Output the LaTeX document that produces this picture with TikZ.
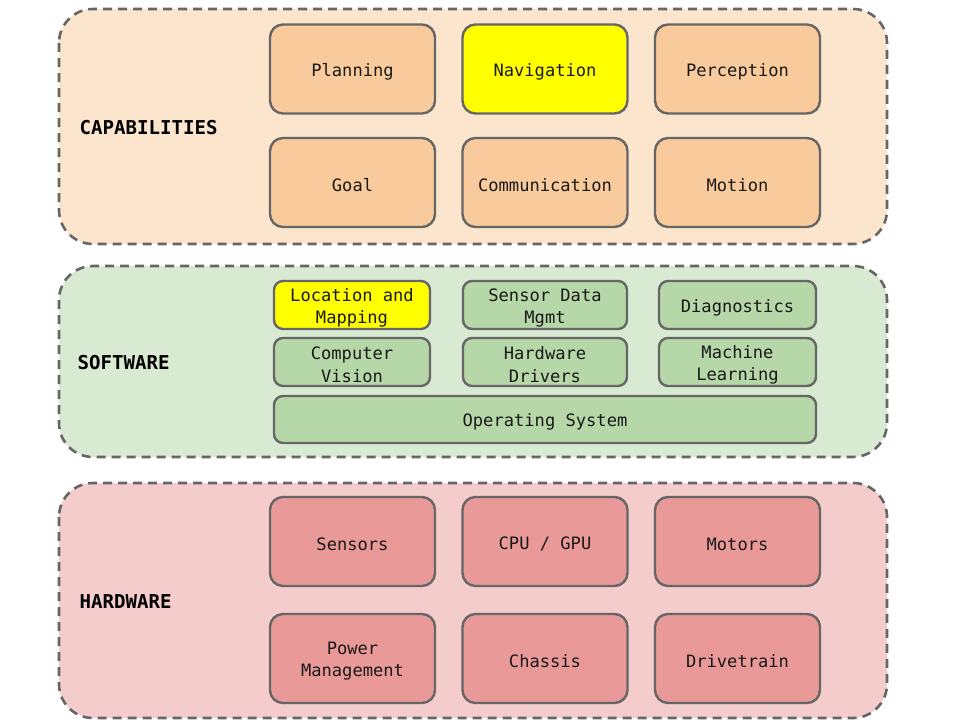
\documentclass[tikz,border=0pt]{standalone}
\usepackage{fontspec}
\setmonofont{DejaVu Sans Mono}
\begin{document}
\begin{tikzpicture}[x=1pt,y=-1pt,
  layer/.style={draw=black!60, line width=2.6pt, dash pattern=on 9pt off 6pt, rounded corners=34pt},
  txt/.style={align=center, font=\ttfamily\fontsize{17.1}{22.5}\selectfont, text=black!90, inner sep=0pt, yshift=-2.8pt},
  blk/.style={draw=black!60, line width=2.4pt, rounded corners=13pt, inner sep=0pt},
  cbox/.style={blk, fill=capbox, minimum width=165pt, minimum height=89pt},
  hbox/.style={blk, fill=hwbox, minimum width=165pt, minimum height=89pt},
  sbox/.style={blk, fill=swbox, rounded corners=9pt, minimum height=48pt},
  lbl/.style={anchor=west, font=\ttfamily\bfseries\fontsize{19.1}{22}\selectfont, text=black}]
\definecolor{capbg}{HTML}{FCE5CD}
\definecolor{capbox}{HTML}{F9CB9C}
\definecolor{swbg}{HTML}{D9EAD3}
\definecolor{swbox}{HTML}{B6D7A8}
\definecolor{hwbg}{HTML}{F4CCCC}
\definecolor{hwbox}{HTML}{EA9999}
\definecolor{hl}{HTML}{FFFF00}
\useasboundingbox (0,0) rectangle (957,725);
\fill[white] (0,0) rectangle (957,725);
% layers
\draw[layer, fill=capbg] (59,9) rectangle (887,244);
\draw[layer, fill=swbg] (59,266) rectangle (887,457);
\draw[layer, fill=hwbg] (59,483) rectangle (887,718);
\node[lbl] (lcap) at (76,128) {CAPABILITIES};
\node[lbl] (lsw) at (74,363) {SOFTWARE};
\node[lbl] (lhw) at (76,602) {HARDWARE};
% capabilities
\node[cbox, label={[txt]center:Planning}] (plan) at (352.5,69) {};
\node[cbox, fill=hl, label={[txt]center:Navigation}] (nav) at (545,69) {};
\node[cbox, label={[txt]center:Perception}] (perc) at (737.5,69) {};
\node[cbox, label={[txt]center:Goal}] (goal) at (352.5,182.5) {};
\node[cbox, label={[txt]center:Communication}] (comm) at (545,182.5) {};
\node[cbox, label={[txt]center:Motion}] (mot) at (737.5,182.5) {};
% software
\node[sbox, fill=hl, minimum width=156pt, label={[txt]center:{Location and\\Mapping}}] (loc) at (352,305) {};
\node[sbox, minimum width=164pt, label={[txt]center:{Sensor Data\\Mgmt}}] (sdm) at (545,305) {};
\node[sbox, minimum width=157pt, label={[txt]center:Diagnostics}] (diag) at (737.5,305) {};
\node[sbox, minimum width=156pt, label={[txt]center:{Computer\\Vision}}] (cv) at (352,362) {};
\node[sbox, minimum width=164pt, label={[txt]center:{Hardware\\Drivers}}] (hwd) at (545,362) {};
\node[sbox, minimum width=157pt, label={[txt]center:{Machine\\Learning}}] (ml) at (737.5,362) {};
\node[sbox, minimum width=542pt, minimum height=47pt, label={[txt]center:Operating System}] (os) at (545,419.5) {};
% hardware
\node[hbox, label={[txt]center:Sensors}] (sens) at (352.5,541.5) {};
\node[hbox, label={[txt]center:CPU / GPU}] (cpu) at (545,541.5) {};
\node[hbox, label={[txt]center:Motors}] (motors) at (737.5,541.5) {};
\node[hbox, label={[txt]center:{Power\\Management}}] (pwr) at (352.5,658.5) {};
\node[hbox, label={[txt]center:Chassis}] (chas) at (545,658.5) {};
\node[hbox, label={[txt]center:Drivetrain}] (dt) at (737.5,658.5) {};
\end{tikzpicture}
\end{document}
